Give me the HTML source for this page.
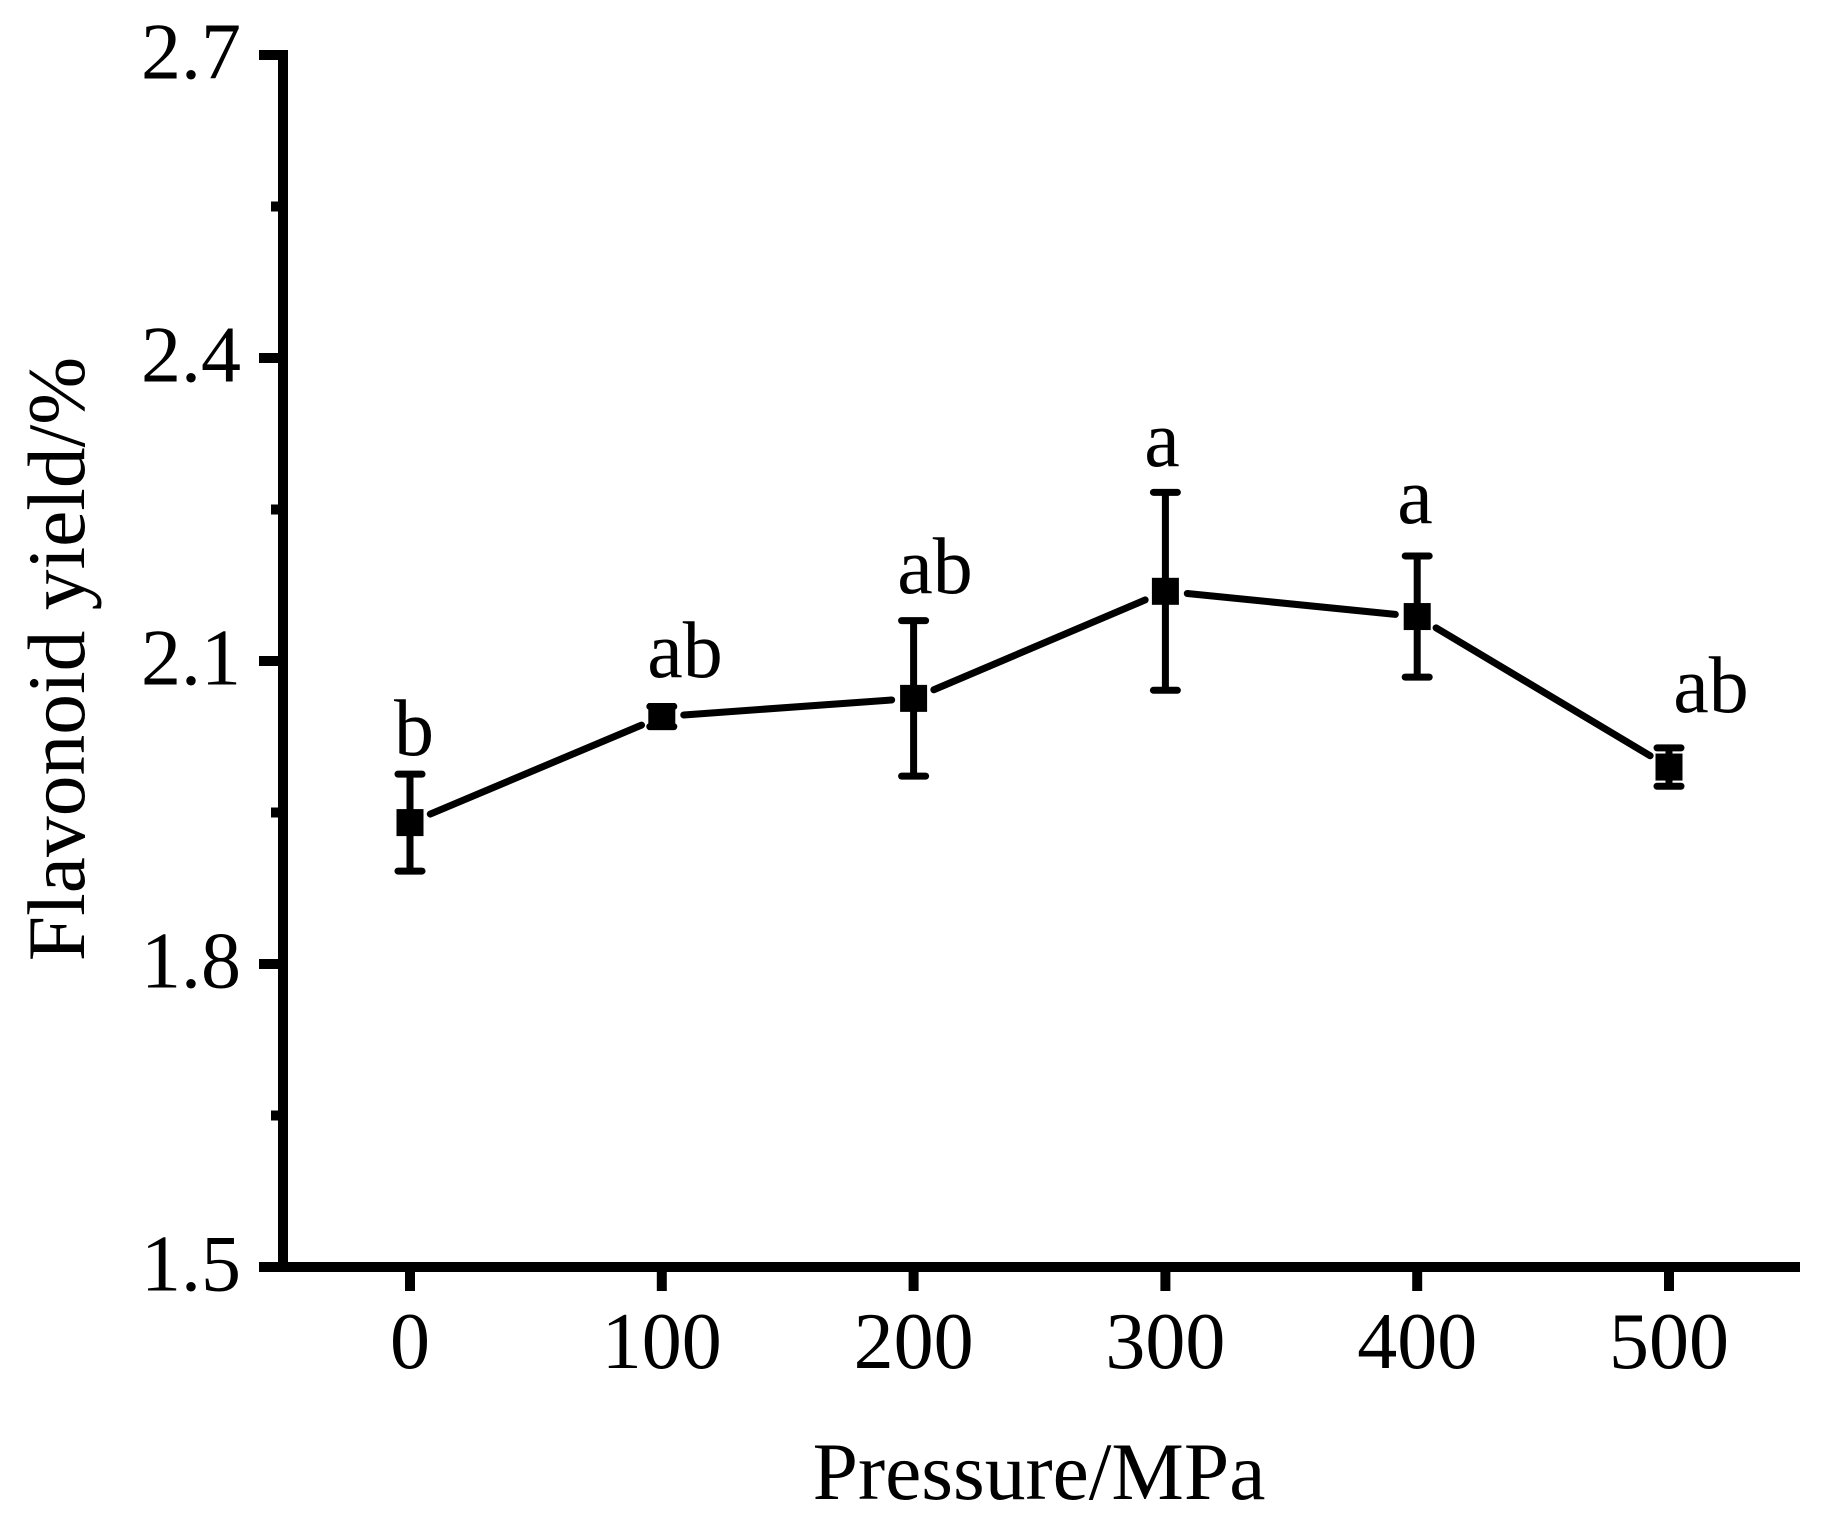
<!DOCTYPE html>
<html lang="en">
<head>
<meta charset="utf-8">
<title>Flavonoid yield vs pressure</title>
<style>
html,body{margin:0;padding:0;background:#fff;}
svg{display:block;}
text{font-family:"Liberation Serif","Times New Roman",serif;font-size:80px;fill:#000;}
text.axis-title{font-size:81.5px;}
</style>
</head>
<body>
<svg id="chart" xmlns="http://www.w3.org/2000/svg" width="1823" height="1529" viewBox="0 0 1823 1529">
  <rect x="0" y="0" width="1823" height="1529" fill="#fff"/>
  <g id="axes"></g>
  <g id="series"></g>
  <g id="letters">
    <text x="414" y="755" text-anchor="middle">b</text>
    <text x="685" y="677" text-anchor="middle">ab</text>
    <text x="935" y="593" text-anchor="middle">ab</text>
    <text x="1162" y="466" text-anchor="middle">a</text>
    <text x="1415" y="523" text-anchor="middle">a</text>
    <text x="1711" y="712" text-anchor="middle">ab</text>
  </g>
  <text class="axis-title" x="1039" y="1499" text-anchor="middle">Pressure/MPa</text>
  <text class="axis-title" transform="translate(84 659) rotate(-90)" text-anchor="middle">Flavonoid yield/%</text>
</svg>
<script>
const pressures = [0, 100, 200, 300, 400, 500];
const yields = [1.94, 2.045, 2.063, 2.169, 2.144, 1.995];
const errors = [0.048, 0.01, 0.077, 0.098, 0.06, 0.019];
const xTickValues = [0, 100, 200, 300, 400, 500];
const xTickLabels = ["0", "100", "200", "300", "400", "500"];
const yTickValues = [1.5, 1.8, 2.1, 2.4, 2.7];
const yTickLabels = ["1.5", "1.8", "2.1", "2.4", "2.7"];
const yMinorTickValues = [1.65, 1.95, 2.25, 2.55];

function xScale(v) { return 410 + (v - 0) * (1669 - 410) / 500; }
function yScale(v) { return 1267 - (v - 1.5) * (1267 - 55) / 1.2; }

const NS = 'http://www.w3.org/2000/svg';
const axes = document.getElementById('axes');
const series = document.getElementById('series');

function makeLine(parent, x1, y1, x2, y2, width, cap) {
  const el = document.createElementNS(NS, 'line');
  el.setAttribute('x1', x1);
  el.setAttribute('y1', y1);
  el.setAttribute('x2', x2);
  el.setAttribute('y2', y2);
  el.setAttribute('stroke', '#000');
  el.setAttribute('stroke-width', width);
  el.setAttribute('stroke-linecap', cap);
  parent.appendChild(el);
  return el;
}

function makeText(parent, x, y, anchor, str) {
  const el = document.createElementNS(NS, 'text');
  el.setAttribute('x', x);
  el.setAttribute('y', y);
  el.setAttribute('text-anchor', anchor);
  el.textContent = str;
  parent.appendChild(el);
  return el;
}

/* axis lines */
const yAxisLine = makeLine(axes, 283, yScale(2.7) - 5, 283, yScale(1.5) + 5, 10, 'butt');


const xAxisLine = makeLine(axes, 259, yScale(1.5), 1800, yScale(1.5), 10, 'butt');



/* y ticks */
yTickValues.forEach(function (v, i) {
  const y = yScale(v);
  const tick = makeLine(axes, 259, y, 280, y, 10, 'butt');
  
  
  const label = makeText(axes, 241, y + 23.5, 'end', yTickLabels[i]);
  
  
});
yMinorTickValues.forEach(function (v) {
  const y = yScale(v);
  const tick = makeLine(axes, 271, y, 280, y, 10, 'butt');
  
  
});

/* x ticks */
xTickValues.forEach(function (v, i) {
  const x = xScale(v);
  const tick = makeLine(axes, x, 1270, x, 1291, 10, 'butt');
  
  
  const label = makeText(axes, x, 1368, 'middle', xTickLabels[i]);
  
  
});

/* connecting segments with gaps around the markers */
const GAP = 22;
for (let i = 0; i < pressures.length - 1; i++) {
  const x1 = xScale(pressures[i]);
  const y1 = yScale(yields[i]);
  const x2 = xScale(pressures[i + 1]);
  const y2 = yScale(yields[i + 1]);
  const len = Math.hypot(x2 - x1, y2 - y1);
  const ux = (x2 - x1) / len;
  const uy = (y2 - y1) / len;
  const seg = makeLine(series, x1 + ux * GAP, y1 + uy * GAP, x2 - ux * GAP, y2 - uy * GAP, 7, 'round');
  
  
}

/* error bars and markers */
pressures.forEach(function (p, i) {
  const x = xScale(p);
  const yTop = yScale(yields[i] + errors[i]);
  const yBottom = yScale(yields[i] - errors[i]);
  const stem = makeLine(series, x, yTop, x, yBottom, 7, 'butt');
  
  
  const capTop = makeLine(series, x - 12, yTop, x + 12, yTop, 7, 'round');
  
  
  const capBottom = makeLine(series, x - 12, yBottom, x + 12, yBottom, 7, 'round');
  
  
  const marker = document.createElementNS(NS, 'rect');
  marker.setAttribute('x', x - 13.5);
  marker.setAttribute('y', yScale(yields[i]) - 13.5);
  marker.setAttribute('width', 27);
  marker.setAttribute('height', 27);
  marker.setAttribute('fill', '#000');
  
  
  series.appendChild(marker);
});
</script>
</body>
</html>
